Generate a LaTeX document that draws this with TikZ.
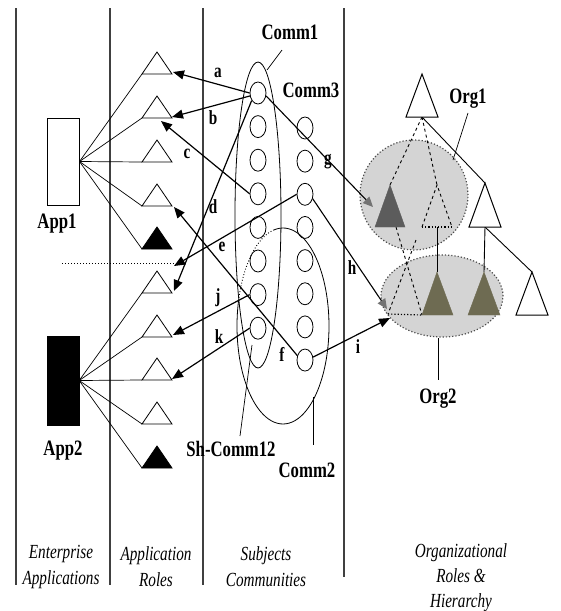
\documentclass[tikz,border=0pt]{standalone}
\usepackage{fontspec}
\setmainfont{Liberation Serif}
\newfontfamily\lblfont[FakeStretch=0.76]{Liberation Serif}
\newfontfamily\capfont[FakeStretch=0.76]{Liberation Serif}
\usetikzlibrary{arrows.meta,shapes.geometric}
\definecolor{orggray}{HTML}{D4D4D4}
\definecolor{darktri}{HTML}{5C5C5C}
\definecolor{olivetri}{HTML}{6E6B52}
\definecolor{colline}{HTML}{404040}
\newcommand\roletri[3]{%
  \coordinate (#1L) at (142,#2);
  \coordinate (#1R) at (172,#2);
  \coordinate (#1A) at (157,{#2-22});
  \filldraw[fill=#3, line width=0.8pt] (#1L) -- (#1A) -- (#1R) -- cycle;}
\begin{document}
\begin{tikzpicture}[x=1pt,y=-1pt,
  colsep/.style={line width=1.3pt, draw=colline},
  link/.style={line width=0.7pt},
  arr/.style={line width=1.2pt, -{Triangle[length=11pt,width=9pt]}},
  garr/.style={line width=1.1pt, -{Triangle[length=10pt,width=9pt,color=black!55,fill=black!55]}},
  circ/.style={ellipse, draw, line width=0.8pt, minimum width=16pt, minimum height=22pt, inner sep=0pt},
  lbl/.style={font=\lblfont\bfseries\fontsize{22}{24}\selectfont, inner sep=0pt},
  sml/.style={font=\lblfont\bfseries\fontsize{20}{22}\selectfont, inner sep=0pt},
  capt/.style={font=\capfont\itshape\fontsize{20}{26}\selectfont, align=center, inner sep=0pt},
  capt3/.style={font=\capfont\itshape\fontsize{20}{25}\selectfont, align=center, inner sep=0pt},
  ptr/.style={line width=0.7pt},
  orgell/.style={ellipse, draw=black!70, dotted, line width=1.2pt, fill=orggray, inner sep=0pt},
  wtri/.style={draw, line width=1pt, fill=white},
  orgln/.style={line width=0.9pt},
]
\useasboundingbox (0,0) rectangle (561,611);
\fill[white] (0,0) rectangle (561,611);

% column separators
\draw[colsep] (16,8) -- (16,585);
\draw[colsep] (110,8) -- (110,585);
\draw[colsep] (203,8) -- (203,585);
\draw[colsep] (344,8) -- (344,577);

% organizational ellipses
\node[orgell, minimum width=108pt, minimum height=110pt] (org1e) at (414,195) {};
\node[orgell, minimum width=122pt, minimum height=82pt] (org2e) at (442,296) {};

% applications
\node[draw, line width=1pt, minimum width=32pt, minimum height=87pt, inner sep=0pt] (app1) at (63,161.5) {};
\node[draw, fill=black, minimum width=32pt, minimum height=89pt, inner sep=0pt] (app2) at (63,380.5) {};
\node[lbl, anchor=base] (app1lbl) at (57,228) {App1};
\node[lbl, anchor=base] (app2lbl) at (63,455) {App2};

% application roles
\roletri{T1}{74}{white}
\roletri{T2}{118}{white}
\roletri{T3}{162}{white}
\roletri{T4}{206}{white}
\roletri{T5}{249}{black}
\roletri{T6}{293}{white}
\roletri{T7}{337}{white}
\roletri{T8}{380}{white}
\roletri{T9}{424}{white}
\roletri{T10}{468}{black}
\foreach \t in {1,...,5} \draw[link] (app1.east) -- (T\t L);
\foreach \t in {6,...,10} \draw[link] (app2.east) -- (T\t L);
\coordinate (dotL) at (62,263);
\coordinate (dotR) at (177,263);
\draw[dotted, line width=1pt] (dotL) -- (dotR);

% communities
\node[draw, ellipse, line width=0.8pt, minimum width=46pt, minimum height=306pt, inner sep=0pt] (comm1e) at (258,215) {};
\draw[line width=0.8pt] plot[domain=258:555, samples=80, smooth] ({283+46*cos(\x)},{326+98*sin(\x)});
\draw[line width=0.9pt, dotted] plot[domain=195:258, samples=20, smooth] ({283+46*cos(\x)},{326+98*sin(\x)});
\foreach \i in {1,...,8} \node[circ] (L\i) at (258,{93+33.6*(\i-1)}) {};
\foreach \i in {1,...,8} \node[circ] (R\i) at (305,{128+33.15*(\i-1)}) {};

\node[lbl, anchor=base] (comm1lbl) at (290,39) {Comm1};
\node[lbl, anchor=base] (comm3lbl) at (311,97) {Comm3};
\node[lbl, anchor=base] (comm2lbl) at (307,477) {Comm2};
\node[lbl, anchor=base] (shlbl) at (231,456) {Sh-Comm12};
\coordinate (c1p1) at (282,50); \coordinate (c1p2) at (267,70);
\draw[ptr] (c1p1) -- (c1p2);
\coordinate (c2p1) at (313,397); \coordinate (c2p2) at (313,445);
\draw[ptr] (c2p1) -- (c2p2);
\coordinate (shp1) at (240,436); \coordinate (shp2) at (252,345);
\draw[ptr] (shp1) -- (shp2);

% organizational hierarchy
\coordinate (OTa) at (422,74); \coordinate (OTl) at (406,117); \coordinate (OTr) at (438,117); \coordinate (OTb) at (422,117);
\coordinate (D1a) at (390,185); \coordinate (D1l) at (375,227); \coordinate (D1r) at (405,227); \coordinate (D1b) at (396,227);
\coordinate (DTa) at (437,185); \coordinate (DTl) at (422,227); \coordinate (DTr) at (452,227); \coordinate (DTb) at (437,227);
\coordinate (W1a) at (485,183); \coordinate (W1l) at (469,227); \coordinate (W1r) at (501,227); \coordinate (W1b) at (485,227);
\coordinate (O1a) at (437,272); \coordinate (O1l) at (422,315); \coordinate (O1r) at (453,315);
\coordinate (O2a) at (484,272); \coordinate (O2l) at (468,315); \coordinate (O2r) at (500,315);
\coordinate (W2a) at (532,272); \coordinate (W2l) at (516,315); \coordinate (W2r) at (548,315);
\coordinate (X2s) at (416,240); \coordinate (X2l) at (388,314);

\draw[orgln, dashed] (OTb) -- (D1a);
\draw[orgln, dashed] (OTb) -- (DTa);
\draw[orgln] (OTb) -- (W1a);
\draw[orgln] (DTb) -- (O1a);
\draw[orgln] (W1b) -- (O2a);
\draw[orgln] (W1b) -- (W2a);
\draw[orgln, dashed] (D1b) -- (O1l);
\draw[orgln, dashed] (X2s) -- (X2l);
\draw[dotted, line width=1.2pt] (X2l) -- (O1l);

\filldraw[wtri] (OTl) -- (OTa) -- (OTr) -- cycle;
\filldraw[fill=darktri, draw=darktri] (D1l) -- (D1a) -- (D1r) -- cycle;
\draw[dashed, line width=0.9pt] (DTl) -- (DTa) -- (DTr);
\draw[dotted, line width=1.2pt] (DTl) -- (DTr);
\filldraw[wtri] (W1l) -- (W1a) -- (W1r) -- cycle;
\filldraw[fill=olivetri, draw=olivetri] (O1l) -- (O1a) -- (O1r) -- cycle;
\filldraw[fill=olivetri, draw=olivetri] (O2l) -- (O2a) -- (O2r) -- cycle;
\filldraw[wtri] (W2l) -- (W2a) -- (W2r) -- cycle;

\node[lbl, anchor=base] (org1lbl) at (468,103) {Org1};
\node[lbl, anchor=base] (org2lbl) at (438,403) {Org2};
\coordinate (o1p1) at (468,113); \coordinate (o1p2) at (453,160);
\draw[ptr] (o1p1) -- (o1p2);
\coordinate (o2p1) at (438,338); \coordinate (o2p2) at (438,380);
\draw[ptr] (o2p1) -- (o2p2);

% arrows
\coordinate (tipa) at (173,72);
\coordinate (tipb) at (172,117);
\coordinate (tipc) at (161,121);
\coordinate (tipd) at (174,291);
\coordinate (tipe) at (174,266);
\coordinate (tipf) at (174,207);
\coordinate (tipg) at (373,207);
\coordinate (tiph) at (387,309);
\coordinate (tipi) at (390,318);
\coordinate (tipj) at (173,335);
\coordinate (tipk) at (172,379);
\draw[arr] (L1.west) -- (tipa);
\draw[arr] (L1.200) -- (tipb);
\draw[arr] (L4.west) -- (tipc);
\draw[arr] (L1.230) -- (tipd);
\draw[arr] (R3.west) -- (tipe);
\draw[arr] (R8.150) -- (tipf);
\draw[garr] (L1.-20) -- (tipg);
\draw[garr] (R3.-30) -- (tiph);
\draw[arr] (R8.20) -- (tipi);
\draw[arr] (L7.west) -- (tipj);
\draw[arr] (L8.west) -- (tipk);

\node[sml] (la) at (218,73) {a};
\node[sml] (lb) at (213,118) {b};
\node[sml] (lc) at (187,154) {c};
\node[sml] (ld) at (213,207) {d};
\node[sml] (le) at (222,247) {e};
\node[sml] (lf) at (282,354) {f};
\node[sml] (lg) at (328,162) {g};
\node[sml] (lh) at (352,268) {h};
\node[sml] (li) at (358,347) {i};
\node[sml] (lj) at (218,298) {j};
\node[sml] (lk) at (219,337) {k};

% captions
\node[capt] (capEA) at (61,566.5) {Enterprise\\Applications};
\node[capt] (capAR) at (156,566.5) {Application\\Roles};
\node[capt] (capSC) at (266,566.5) {Subjects\\Communities};
\node[capt3] (capOR) at (461,577.5) {Organizational\\Roles \&\\Hierarchy};
\end{tikzpicture}
\end{document}
